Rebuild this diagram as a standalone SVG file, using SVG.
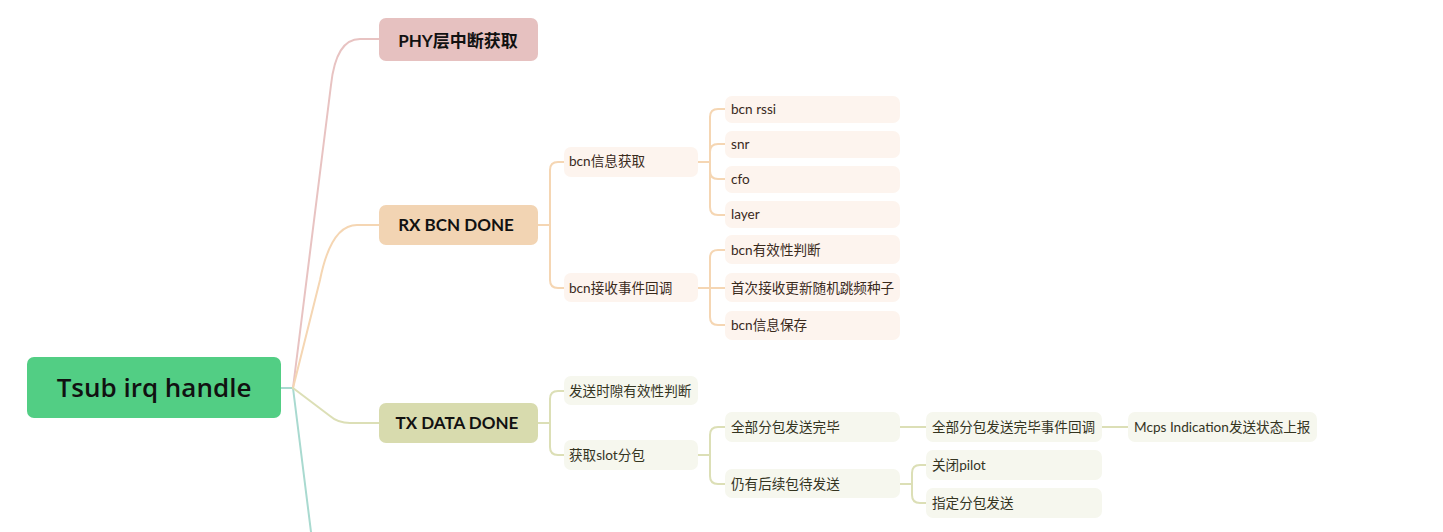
<svg xmlns="http://www.w3.org/2000/svg" width="1443" height="532" viewBox="0 0 1443 532">
<style>
  text { font-family: "Lato", "Noto Sans CJK SC", sans-serif; }
  .c { fill: none; stroke-width: 2; stroke-linecap: round; stroke-linejoin: round; }
  .teal { stroke: #a9dad0; }
  .pink { stroke: #e8c3c2; }
  .org { stroke: #f5d6b3; }
  .olv { stroke: #dcdfb6; }
  .lo { fill: #fdf4ee; }
  .lt { fill: #f6f7ee; }
  .lbl { font-size: 13.6px; fill: #3a2a1c; }
  .lblt { font-size: 13.6px; fill: #34341f; }
  .main { font-size: 17px; font-weight: 700; fill: #111; text-anchor: middle; }
</style>
<rect width="1443" height="532" fill="#ffffff"/>
<g id="connectors">
  <path class="c teal" d="M281,388 H293 L312,540"/>
  <path class="c pink" d="M293,388 L331,85 Q336,39 360,39 H379"/>
  <path class="c org" d="M293,388 L320,280 Q331,225 357,225 H379"/>
  <path class="c olv" d="M293,388 L330,416 Q338,423 350,423 H379"/>
  <path class="c org" d="M538,225 H550 M550,225 V170 Q550,162 558,162 H564 M550,225 V280 Q550,288 558,288 H564"/>
  <path class="c org" d="M698,162 H710 M710,162 V117 Q710,109 718,109 H725 M710,162 V152 Q710,144 718,144 H725 M710,162 V171 Q710,179 718,179 H725 M710,162 V207 Q710,215 718,215 H725"/>
  <path class="c org" d="M698,288 H725 M710,288 V258 Q710,250 718,250 H725 M710,288 V317 Q710,325 718,325 H725"/>
  <path class="c olv" d="M538,423 H550 M550,423 V399 Q550,391 558,391 H564 M550,423 V447 Q550,455 558,455 H564"/>
  <path class="c olv" d="M698,455 H710 M710,455 V435 Q710,427 718,427 H725 M710,455 V476 Q710,484 718,484 H725"/>
  <path class="c olv" d="M900,427 H926 M1102,427 H1128"/>
  <path class="c olv" d="M900,484 H912 M912,484 V473 Q912,465 920,465 H926 M912,484 V495 Q912,503 920,503 H926"/>
</g>
<g id="root">
  <rect x="27" y="357" width="254" height="61" rx="7" fill="#52ce84"/>
  <text x="154" y="397" font-size="26" font-weight="600" fill="#111" text-anchor="middle" style="font-family:'Open Sans','Lato',sans-serif">Tsub irq handle</text>
</g>
<g id="phy">
  <rect x="379" y="18" width="159" height="43" rx="7" fill="#e6c1c0"/>
  <text x="458" y="47" class="main" font-size="18">PHY层中断获取</text>
</g>
<g id="rx">
  <rect x="379" y="205" width="159" height="40" rx="7" fill="#f2d4b3"/>
  <text x="456" y="231" class="main">RX BCN DONE</text>
</g>
<g id="tx">
  <rect x="379" y="403" width="159" height="40" rx="7" fill="#d8dbae"/>
  <text x="457" y="429" class="main">TX DATA DONE</text>
</g>
<g id="bcn-info">
  <rect class="lo" x="564" y="147" width="134" height="30" rx="7"/>
  <text class="lbl" x="569" y="166">bcn信息获取</text>
</g>
<g id="bcn-cb">
  <rect class="lo" x="564" y="273" width="134" height="29" rx="7"/>
  <text class="lbl" x="569" y="293">bcn接收事件回调</text>
</g>
<g id="rssi">
  <rect class="lo" x="725" y="96" width="175" height="27" rx="7"/>
  <text class="lbl" x="731" y="114">bcn rssi</text>
</g>
<g id="snr">
  <rect class="lo" x="725" y="131" width="175" height="27" rx="7"/>
  <text class="lbl" x="731" y="149">snr</text>
</g>
<g id="cfo">
  <rect class="lo" x="725" y="166" width="175" height="27" rx="7"/>
  <text class="lbl" x="731" y="184">cfo</text>
</g>
<g id="layer">
  <rect class="lo" x="725" y="201" width="175" height="27" rx="7"/>
  <text class="lbl" x="731" y="219">layer</text>
</g>
<g id="bcn-valid">
  <rect class="lo" x="725" y="235" width="175" height="29" rx="7"/>
  <text class="lbl" x="731" y="255">bcn有效性判断</text>
</g>
<g id="first-rx">
  <rect class="lo" x="725" y="273" width="175" height="29" rx="7"/>
  <text class="lbl" x="731" y="293">首次接收更新随机跳频种子</text>
</g>
<g id="bcn-save">
  <rect class="lo" x="725" y="311" width="175" height="29" rx="7"/>
  <text class="lbl" x="731" y="330">bcn信息保存</text>
</g>
<g id="slot-valid">
  <rect class="lt" x="564" y="376" width="134" height="29" rx="7"/>
  <text class="lblt" x="569" y="396">发送时隙有效性判断</text>
</g>
<g id="slot-pkt">
  <rect class="lt" x="564" y="440" width="134" height="30" rx="7"/>
  <text class="lblt" x="569" y="460">获取slot分包</text>
</g>
<g id="all-sent">
  <rect class="lt" x="725" y="412" width="175" height="30" rx="7"/>
  <text class="lblt" x="731" y="432">全部分包发送完毕</text>
</g>
<g id="more-pkt">
  <rect class="lt" x="725" y="469" width="175" height="29" rx="7"/>
  <text class="lblt" x="731" y="489">仍有后续包待发送</text>
</g>
<g id="all-sent-cb">
  <rect class="lt" x="926" y="412" width="176" height="30" rx="7"/>
  <text class="lblt" x="932" y="432">全部分包发送完毕事件回调</text>
</g>
<g id="mcps">
  <rect class="lt" x="1128" y="412" width="189" height="30" rx="7"/>
  <text class="lblt" x="1134" y="432">Mcps Indication发送状态上报</text>
</g>
<g id="pilot">
  <rect class="lt" x="926" y="450" width="176" height="30" rx="7"/>
  <text class="lblt" x="932" y="470">关闭pilot</text>
</g>
<g id="send-pkt">
  <rect class="lt" x="926" y="488" width="176" height="30" rx="7"/>
  <text class="lblt" x="932" y="508">指定分包发送</text>
</g>
</svg>
